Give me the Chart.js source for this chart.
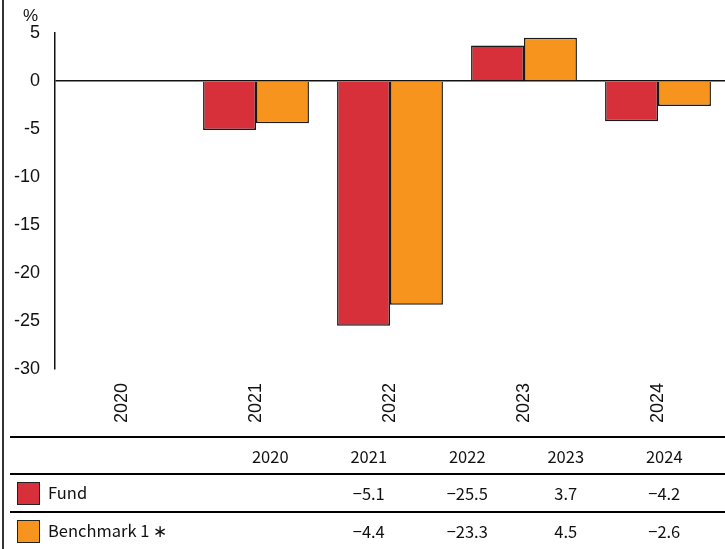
<!DOCTYPE html>
<html>
<head>
<meta charset="utf-8">
<script src="https://cdn.jsdelivr.net/npm/chart.js@4/dist/chart.umd.min.js"></script>
<style>
    html, body { margin: 0; padding: 0; background: #fff; }
    body { width: 725px; height: 549px; position: relative; overflow: hidden; }
    #frame { position: absolute; left: 2px; top: 0; width: 2px; height: 549px; background: #333; }
    #wrap { position: absolute; left: 0; top: 0; width: 725px; height: 437px; }
    #tbl {
        position: absolute; left: 10px; top: 436px; width: 715px;
        border-collapse: collapse; table-layout: fixed;
        font-family: "Noto Sans CJK JP", "Liberation Sans", sans-serif; font-size: 16.5px; color: #111;
    }
    #tbl td { border-top: 2px solid #000; padding: 0; text-align: center; }
    #tbl tr.head td { height: 35px; }
    #tbl tr.row td { height: 36px; }
    #tbl td.name { text-align: left; }
    .swatch { display: inline-block; width: 21px; height: 21px; border: 1.5px solid #222; vertical-align: middle; margin: 0 8px 0 7px; position: relative; top: -1px; }
</style>
</head>
<body>
<div id="frame"></div>
<div id="wrap"><canvas id="barChart"></canvas></div>
<table id="tbl"></table>
<script>
    const years = ["2020", "2021", "2022", "2023", "2024"];
    const fundValues = [null, -5.1, -25.5, 3.7, -4.2];
    const benchValues = [null, -4.4, -23.3, 4.5, -2.6];
    const seriesNames = ["Fund", "Benchmark 1 \u2217"];
    const seriesColors = ["#D8303A", "#F7941E"];

    // "%" unit label above the y axis
    const unitLabel = {
        id: "unitLabel",
        afterDraw(chart) {
            const ctx = chart.ctx;
            ctx.save();
            ctx.font = "17px 'Liberation Sans', Arial, sans-serif";
            ctx.fillStyle = "#111";
            ctx.textAlign = "left";
            ctx.textBaseline = "middle";
            ctx.fillText("%", 23, 16);
            ctx.restore();
        }
    };

    const ctx = document.getElementById("barChart");
    new Chart(ctx, {
        type: "bar",
        data: {
            labels: years,
            datasets: [
                { label: seriesNames[0], data: fundValues, backgroundColor: seriesColors[0], borderColor: "#1a1a1a", borderWidth: 1.5 },
                { label: seriesNames[1], data: benchValues, backgroundColor: seriesColors[1], borderColor: "#1a1a1a", borderWidth: 1.5 }
            ]
        },
        options: {
            responsive: true,
            maintainAspectRatio: false,
            animation: false,
            layout: { padding: { top: 33, right: 0, bottom: 0, left: 0 } },
            datasets: { bar: { categoryPercentage: 0.79, barPercentage: 1 } },
            scales: {
                x: {
                    grid: { display: false },
                    border: { display: false },
                    ticks: {
                        minRotation: 90, maxRotation: 90, padding: 6,
                        color: "#111",
                        font: { family: "'Liberation Sans', Arial, sans-serif", size: 18 }
                    },
                    afterFit(scale) { scale.height = 68; }
                },
                y: {
                    min: -30, max: 5,
                    border: { display: true, color: "#111", width: 1.5 },
                    grid: {
                        drawTicks: false,
                        lineWidth: 1.5,
                        color: (c) => (c.tick && c.tick.value === 0 ? "#111" : "rgba(0,0,0,0)")
                    },
                    ticks: {
                        stepSize: 5, padding: 15, color: "#111",
                        font: { family: "'Liberation Sans', Arial, sans-serif", size: 18 }
                    },
                    afterFit(scale) { scale.width = 55; }
                }
            },
            plugins: {
                legend: { display: false },
                tooltip: { enabled: false }
            }
        },
        plugins: [unitLabel]
    });

    // Data table under the chart
    const fmt = (v) => (v === null ? "" : (v < 0 ? "\u2212" + Math.abs(v).toFixed(1) : v.toFixed(1)));
    const tbl = document.getElementById("tbl");
    let html = '<colgroup><col style="width:211px">' + years.map(() => '<col style="width:98.5px">').join("") + '<col></colgroup>';
    html += '<tr class="head"><td></td>' + years.map((y) => "<td>" + y + "</td>").join("") + "<td></td></tr>";
    [fundValues, benchValues].forEach((vals, i) => {
        html += '<tr class="row"><td class="name"><span class="swatch" style="background:' + seriesColors[i] + '"></span>' + seriesNames[i] + "</td>";
        html += vals.map((v) => "<td>" + fmt(v) + "</td>").join("") + "<td></td></tr>";
    });
    tbl.innerHTML = html;
</script>
</body>
</html>
